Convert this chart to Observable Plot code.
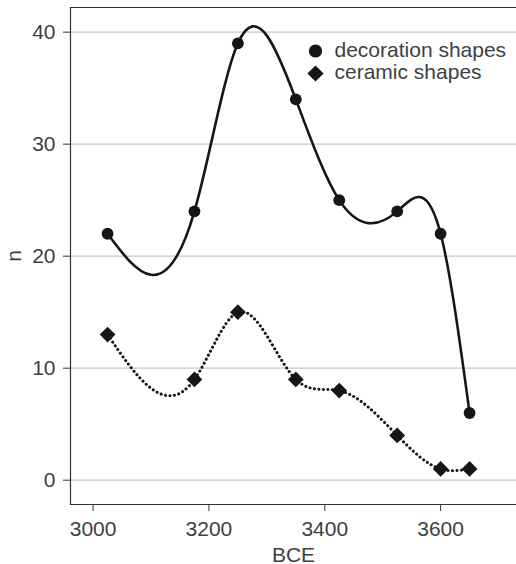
<!DOCTYPE html>
<html>
<head>
<meta charset="utf-8">
<script src="https://cdn.jsdelivr.net/npm/d3@7"></script>
<script src="https://cdn.jsdelivr.net/npm/@observablehq/plot@0.6"></script>
<style>
  html, body { margin: 0; padding: 0; background: #fff; }
  #chart svg { display: block; }
</style>
</head>
<body>
<div id="chart"></div>
<script>
const years = [3025, 3175, 3250, 3350, 3425, 3525, 3600, 3650];
const decoration = [22, 24, 39, 34, 25, 24, 22, 6];
const ceramic = [13, 9, 15, 9, 8, 4, 1, 1];
const seriesNames = ["decoration shapes", "ceramic shapes"];
const xTicks = [3000, 3200, 3400, 3600];
const yTicks = [0, 10, 20, 30, 40];
const xLabel = "BCE";
const yLabel = "n";

const decoData = years.map((x, i) => ({x, y: decoration[i]}));
const ceraData = years.map((x, i) => ({x, y: ceramic[i]}));

// Custom curve: natural cubic spline of y as a function of x (drawn as Bézier segments)
function NaturalYofX(context) { this._context = context; }
NaturalYofX.prototype = {
  areaStart() { this._line = 0; },
  areaEnd() { this._line = NaN; },
  lineStart() { this._xs = []; this._ys = []; },
  point(x, y) { this._xs.push(+x); this._ys.push(+y); },
  lineEnd() {
    const X = this._xs, Y = this._ys, n = X.length, c = this._context;
    if (n === 0) return;
    c.moveTo(X[0], Y[0]);
    if (n === 2) { c.lineTo(X[1], Y[1]); }
    else if (n > 2) {
      const h = [], M = new Array(n).fill(0);
      for (let i = 0; i < n - 1; i++) h.push(X[i + 1] - X[i]);
      const m = n - 2, a = [], b = [], cc = [], d = [];
      for (let k = 0; k < m; k++) {
        const i = k + 1;
        a.push(h[i - 1]); b.push(2 * (h[i - 1] + h[i])); cc.push(h[i]);
        d.push(6 * ((Y[i + 1] - Y[i]) / h[i] - (Y[i] - Y[i - 1]) / h[i - 1]));
      }
      for (let k = 1; k < m; k++) {
        const w = a[k] / b[k - 1];
        b[k] -= w * cc[k - 1]; d[k] -= w * d[k - 1];
      }
      const sol = new Array(m);
      sol[m - 1] = d[m - 1] / b[m - 1];
      for (let k = m - 2; k >= 0; k--) sol[k] = (d[k] - cc[k] * sol[k + 1]) / b[k];
      for (let k = 0; k < m; k++) M[k + 1] = sol[k];
      for (let i = 0; i < n - 1; i++) {
        const hi = h[i], sec = (Y[i + 1] - Y[i]) / hi;
        const s0 = sec - hi * (2 * M[i] + M[i + 1]) / 6;
        const s1 = sec + hi * (M[i] + 2 * M[i + 1]) / 6;
        c.bezierCurveTo(X[i] + hi / 3, Y[i] + s0 * hi / 3,
                        X[i + 1] - hi / 3, Y[i + 1] - s1 * hi / 3,
                        X[i + 1], Y[i + 1]);
      }
    }
    if (this._line === 0) c.closePath();
  }
};
const naturalYofX = (context) => new NaturalYofX(context);

const FONT = "Liberation Sans, Arial, sans-serif";
const TXT = "#404040";
const INK = "#161616";

const chart = Plot.plot({
  width: 516,
  height: 564,
  marginTop: 7,
  marginBottom: 60,
  marginLeft: 70,
  marginRight: 0,
  style: {fontFamily: FONT, fontSize: "21px", color: TXT, background: "#fff"},
  x: {domain: [2961, 3731]},
  y: {domain: [-2.17, 42.2]},
  marks: [
    Plot.gridY(yTicks, {stroke: "#c8c8c8", strokeOpacity: 1, strokeWidth: 1.3}),
    Plot.frame({anchor: "top", stroke: "#333", strokeWidth: 1.2}),
    Plot.axisY(yTicks, {tickSize: 7, tickPadding: 8, stroke: "#333", fill: TXT, fontSize: 21,
      label: yLabel, labelAnchor: "center", labelArrow: "none", labelOffset: 64}),
    Plot.axisX(xTicks, {tickSize: 7, tickPadding: 10, tickFormat: d => String(d), stroke: "#333", fill: TXT, fontSize: 21,
      label: xLabel, labelAnchor: "center", labelArrow: "none", labelOffset: 57}),
    Plot.frame({anchor: "left", stroke: "#333", strokeWidth: 1.2}),
    Plot.frame({anchor: "bottom", stroke: "#333", strokeWidth: 1.2}),
    Plot.line(decoData, {x: "x", y: "y", curve: naturalYofX, stroke: INK, strokeWidth: 2.6}),
    Plot.line(ceraData, {x: "x", y: "y", curve: naturalYofX, stroke: INK, strokeWidth: 3,
      strokeDasharray: "0.1 4.4", strokeLinecap: "round"}),
    Plot.dot(decoData, {x: "x", y: "y", r: 5.9, fill: INK, stroke: "none"}),
    Plot.dot(ceraData, {x: "x", y: "y", r: 7.1, symbol: "diamond2", fill: INK, stroke: "none"}),
    // legend inside the plot
    Plot.dot([seriesNames[0]], {frameAnchor: "top-left", dx: 245, dy: 43.5, r: 6.6, fill: INK, stroke: "none"}),
    Plot.dot([seriesNames[1]], {frameAnchor: "top-left", dx: 245, dy: 66, r: 7.3, symbol: "diamond2", fill: INK, stroke: "none"}),
    Plot.text([seriesNames[0]], {frameAnchor: "top-left", dx: 264, dy: 43,
      text: d => d, textAnchor: "start", lineAnchor: "middle", fill: TXT, fontSize: 21}),
    Plot.text([seriesNames[1]], {frameAnchor: "top-left", dx: 264, dy: 65,
      text: d => d, textAnchor: "start", lineAnchor: "middle", fill: TXT, fontSize: 21})
  ]
});
document.getElementById("chart").appendChild(chart);
</script>
</body>
</html>
